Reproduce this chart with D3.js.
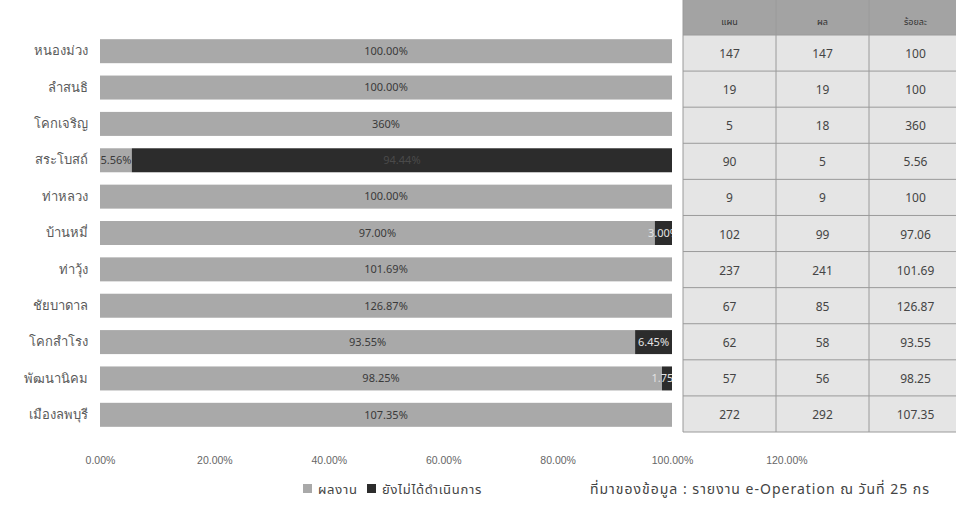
<!DOCTYPE html>
<html><head><meta charset="utf-8">
<script src="https://cdn.jsdelivr.net/npm/d3@7"></script>
<style>
html,body{margin:0;padding:0;background:#fff;}
svg{display:block;font-family:Tahoma,"Noto Sans","Noto Sans Thai",sans-serif;}
</style></head>
<body>
<svg id="c" width="956" height="506"></svg>
<script>
const categories = ["หนองม่วง","ลำสนธิ","โคกเจริญ","สระโบสถ์","ท่าหลวง","บ้านหมี่","ท่าวุ้ง","ชัยบาดาล","โคกสำโรง","พัฒนานิคม","เมืองลพบุรี"];
const doneValues = [100, 100, 360, 5.56, 100, 97, 101.69, 126.87, 93.55, 98.25, 107.35];
const pendingValues = [0, 0, 0, 94.44, 0, 3, 0, 0, 6.45, 1.75, 0];
const doneLabels = ["100.00%","100.00%","360%","5.56%","100.00%","97.00%","101.69%","126.87%","93.55%","98.25%","107.35%"];
const pendingLabels = ["","","","94.44%","","3.00%","","","6.45%","1.75%",""];
const seriesNames = ["ผลงาน","ยังไม่ได้ดำเนินการ"];
const tickValues = [0, 0.2, 0.4, 0.6, 0.8, 1.0, 1.2];
const tableHeaders = ["แผน","ผล","ร้อยละ"];
const planValues = [147, 19, 5, 90, 9, 102, 237, 67, 62, 57, 272];
const resultValues = [147, 19, 18, 5, 9, 99, 241, 85, 58, 56, 292];
const percentLabels = ["100","100","360","5.56","100","97.06","101.69","126.87","93.55","98.25","107.35"];
const sourceText = "ที่มาของข้อมูล : รายงาน  e-Operation ณ วันที่ 25 กร";

const colors = ["#a9a9a9", "#2c2c2c"];
const svg = d3.select("#c");

const rows = categories.map((c, i) => ({cat: c, done: doneValues[i], pending: pendingValues[i], i}));
const stack = d3.stack().keys(["done","pending"]).offset(d3.stackOffsetExpand);
const series = stack(rows);

const x = d3.scaleLinear().domain([0, 1.2]).range([100, 786.4]);
const y = d3.scaleBand().domain(categories).range([33, 433]).paddingInner(0.34).paddingOuter(0.17);

svg.append("clipPath").attr("id","plotclip").append("rect")
  .attr("x", x(0)).attr("y", 0).attr("width", x(1) - x(0)).attr("height", 506);

// bars
const g = svg.append("g");
series.forEach((s, k) => {
  g.selectAll(null).data(s).enter().append("rect")
    .attr("x", d => x(d[0]))
    .attr("y", d => y(d.data.cat))
    .attr("width", d => Math.max(0, x(d[1]) - x(d[0])))
    .attr("height", y.bandwidth())
    .attr("fill", colors[k]);
});

// labels
const lg = svg.append("g").attr("font-size", 11);
series[0].forEach((d, i) => {
  lg.append("text").attr("x", (x(d[0]) + x(d[1])) / 2).attr("y", y(d.data.cat) + y.bandwidth()/2)
    .attr("dy", "0.35em").attr("text-anchor","middle").attr("fill","#3a3a3a").text(doneLabels[i]);
});
const plg = svg.append("g").attr("font-size", 11).attr("clip-path","url(#plotclip)");
series[1].forEach((d, i) => {
  if (!pendingLabels[i]) return;
  const wide = (d[1] - d[0]) > 0.5;
  plg.append("text").attr("x", (x(d[0]) + x(d[1])) / 2).attr("y", y(d.data.cat) + y.bandwidth()/2)
    .attr("dy", "0.35em").attr("text-anchor","middle").attr("fill", wide ? "#4a4a4a" : "#e2e2e2").text(pendingLabels[i]);
});

// category axis
const ya = svg.append("g").attr("transform", `translate(${x(0)},0)`)
  .call(d3.axisLeft(y).tickSize(0).tickPadding(12));
ya.select(".domain").remove();
ya.selectAll("text").attr("font-size", 13).attr("fill", "#5a5a5a").style("font-family", "inherit");

// x axis
const xa = svg.append("g").attr("transform", "translate(0,455)")
  .call(d3.axisBottom(x).tickValues(tickValues).tickFormat(d3.format(".2%")).tickSize(0).tickPadding(2));
xa.select(".domain").remove();
xa.selectAll("text").attr("font-size", 10.5).attr("fill", "#666").style("font-family", "inherit");

// table
const colX = d3.scaleBand().domain([0,1,2]).range([683, 962]);
const rowY = d3.scaleBand().domain(categories).range([35, 432]);
const tg = svg.append("g");
tg.append("rect").attr("x", 683).attr("y", 0).attr("width", 962 - 683).attr("height", 35).attr("fill", "#a3a3a3");
tg.append("rect").attr("x", 683).attr("y", 35).attr("width", 962 - 683).attr("height", 432 - 35).attr("fill", "#e5e5e5");
categories.forEach(c => {
  tg.append("line").attr("x1", 683).attr("x2", 962).attr("y1", rowY(c)).attr("y2", rowY(c)).attr("stroke", "#9a9a9a");
});
tg.append("line").attr("x1", 683).attr("x2", 962).attr("y1", 432).attr("y2", 432).attr("stroke", "#9a9a9a");
[0,1,2].forEach(k => {
  tg.append("line").attr("x1", colX(k)).attr("x2", colX(k)).attr("y1", 0).attr("y2", 432).attr("stroke", "#9a9a9a");
});
tableHeaders.forEach((h, k) => {
  tg.append("text").attr("x", colX(k) + colX.bandwidth()/2).attr("y", 25).attr("text-anchor","middle")
    .attr("font-size", 9).attr("fill", "#333").text(h);
});
const cols = [planValues.map(String), resultValues.map(String), percentLabels];
categories.forEach((c, i) => {
  cols.forEach((arr, k) => {
    tg.append("text").attr("x", colX(k) + colX.bandwidth()/2).attr("y", rowY(c) + rowY.bandwidth()/2 + 5)
      .attr("text-anchor","middle").attr("font-size", 12).attr("fill", "#444").text(arr[i]);
  });
});

// legend
const leg = svg.append("g").attr("font-size", 13).attr("fill", "#444");
const legX = [303, 367];
seriesNames.forEach((n, k) => {
  leg.append("rect").attr("x", legX[k]).attr("y", 484).attr("width", 9).attr("height", 9).attr("fill", colors[k]);
  leg.append("text").attr("x", legX[k] + 15).attr("y", 494).attr("letter-spacing", 0.7).text(n);
});
leg.append("text").attr("x", 590).attr("y", 494).attr("font-size", 14).attr("letter-spacing", 1).text(sourceText);
</script>
</body></html>
